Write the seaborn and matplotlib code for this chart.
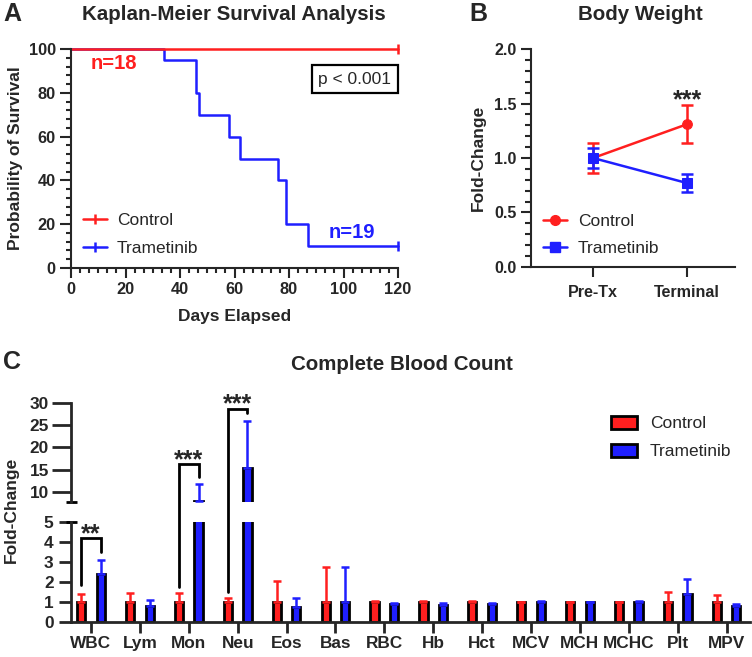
import numpy as np
import pandas as pd
import matplotlib
matplotlib.use('Agg')
import matplotlib.pyplot as plt
import seaborn as sns
from matplotlib.ticker import MultipleLocator, FormatStrFormatter
from matplotlib.lines import Line2D

# ---------------- data ----------------
# Panel A: Kaplan-Meier
km_ctrl_days = [0, 120]
km_ctrl_surv = [100, 100]
km_tram_days = [0, 34, 46, 47, 58, 62, 76, 79, 87, 120]
km_tram_surv = [100, 95, 80, 70, 60, 50, 40, 20, 10, 10]
km_labels = ['Control', 'Trametinib']
km_n_text = ['n=18', 'n=19']
km_p_text = 'p < 0.001'

# Panel B: body weight
bw_timepoints = ['Pre-Tx', 'Terminal']
bw_ctrl_mean = [1.00, 1.31]
bw_ctrl_err = [0.14, 0.175]
bw_tram_mean = [1.00, 0.77]
bw_tram_err = [0.09, 0.08]
bw_sig = ['', '***']

# Panel C: complete blood count
cbc_params = ['WBC', 'Lym', 'Mon', 'Neu', 'Eos', 'Bas', 'RBC', 'Hb', 'Hct',
              'MCV', 'MCH', 'MCHC', 'Plt', 'MPV']
cbc_ctrl_mean = [1.0, 1.0, 1.0, 1.0, 1.0, 1.0, 1.0, 1.0, 1.0, 0.98, 1.0, 0.98, 1.0, 1.0]
cbc_ctrl_upper = [1.40, 1.43, 1.43, 1.22, 2.07, 2.75, 1.04, 1.03, 1.03, 1.00, 1.02, 1.00, 1.50, 1.35]
cbc_tram_mean = [2.40, 0.78, 8.0, 15.4, 0.73, 1.0, 0.90, 0.87, 0.88, 1.0, 0.98, 1.0, 1.38, 0.80]
cbc_tram_upper = [3.12, 1.10, 11.8, 26.0, 1.19, 2.75, 0.97, 0.96, 0.95, 1.03, 1.01, 1.03, 2.15, 0.90]
sig_params = ['WBC', 'Mon', 'Neu']
sig_text = ['**', '***', '***']
sig_left_start = [1.85, 1.77, 1.50]
sig_top = [4.2, 16.2, 28.7]
sig_right_end = [3.5, 13.4, 27.75]

RED = '#FF1F1F'
BLUE = '#1F1FFF'

sns.set_style('ticks')
plt.rcParams['font.family'] = ['Liberation Sans', 'DejaVu Sans']
plt.rcParams['font.weight'] = 'bold'
plt.rcParams['axes.labelweight'] = 'bold'

W, H = 752, 657
fig = plt.figure(figsize=(W / 100, H / 100), dpi=100)


def rect(l, t, r, b):
    return [l / W, 1 - b / H, (r - l) / W, (b - t) / H]


axA = fig.add_axes(rect(71, 49, 398, 268))
axB = fig.add_axes(rect(531, 49, 735, 267))
axH = fig.add_axes(rect(71, 403, 750, 502))
axL = fig.add_axes(rect(71, 522, 750, 622))

# ---------------- Panel A ----------------
sns.lineplot(x=km_tram_days, y=km_tram_surv, drawstyle='steps-post', color=BLUE,
             lw=1.8, ax=axA, errorbar=None, clip_on=False)
sns.lineplot(x=km_ctrl_days, y=km_ctrl_surv, drawstyle='steps-post', color=RED,
             lw=1.8, ax=axA, errorbar=None, clip_on=False)
axA.plot([km_tram_days[-1]], [km_tram_surv[-1]], marker='|', ms=7, mew=1.8, color=BLUE, clip_on=False)
axA.plot([km_ctrl_days[-1]], [km_ctrl_surv[-1]], marker='|', ms=7, mew=1.8, color=RED, clip_on=False)
axA.set_xlim(0, 120)
axA.set_ylim(0, 100)
axA.set_xticks(range(0, 121, 20))
axA.set_yticks(range(0, 101, 20))
axA.xaxis.set_minor_locator(MultipleLocator(20 / 6))
axA.yaxis.set_minor_locator(MultipleLocator(4))
sns.despine(ax=axA)
for s in ['left', 'bottom']:
    axA.spines[s].set_linewidth(1.5)
axA.tick_params(which='major', length=7, width=1.5, labelsize=11.8, pad=3)
axA.tick_params(which='minor', length=3.5, width=1.5)
axA.tick_params(axis='y', which='major', length=8)
axA.set_xlabel('Days Elapsed', fontsize=12.5, labelpad=9)
axA.set_ylabel('Probability of Survival', fontsize=12.5, labelpad=4)
hA = [Line2D([], [], color=c, lw=1.8, marker='|', ms=7, mew=1.8) for c in (RED, BLUE)]
axA.legend(hA, km_labels, loc='lower left', bbox_to_anchor=(0.0, 0.0), frameon=False,
           prop={'weight': 'normal', 'size': 12.5}, handlelength=1.4, handletextpad=0.53,
           labelspacing=0.75, borderaxespad=0.3)
axA.text(15.8, 93.6, km_n_text[0], color=RED, fontsize=14.5, ha='center', va='center')
axA.text(103, 16, km_n_text[1], color=BLUE, fontsize=14.5, ha='center', va='center')
axA.text(104.2, 86.3, km_p_text, fontsize=12.5, weight='normal', ha='center', va='center',
         bbox=dict(boxstyle='square,pad=0.4', fc='white', ec='black', lw=1.6))

# ---------------- Panel B ----------------
xb = np.arange(len(bw_timepoints))
sns.lineplot(x=xb, y=bw_ctrl_mean, color=RED, marker='o', ms=7, mec=RED, lw=1.8, ax=axB)
axB.errorbar(xb, bw_ctrl_mean, yerr=bw_ctrl_err, fmt='none', ecolor=RED, elinewidth=1.8,
             capsize=4.5, capthick=1.8)
sns.lineplot(x=xb, y=bw_tram_mean, color=BLUE, marker='s', ms=7, mec=BLUE, lw=1.8, ax=axB)
axB.errorbar(xb, bw_tram_mean, yerr=bw_tram_err, fmt='none', ecolor=BLUE, elinewidth=1.8,
             capsize=4.5, capthick=1.8)
for i, s in enumerate(bw_sig):
    if s:
        axB.text(xb[i], bw_ctrl_mean[i] + bw_ctrl_err[i] - 0.02, s, fontsize=18,
                 weight='bold', ha='center', va='baseline')
axB.set_xlim(-0.66, 1.51)
axB.set_ylim(0, 2.0)
axB.set_xticks(xb)
axB.set_xticklabels(bw_timepoints)
axB.set_yticks([0, 0.5, 1.0, 1.5, 2.0])
axB.yaxis.set_major_formatter(FormatStrFormatter('%.1f'))
axB.yaxis.set_minor_locator(MultipleLocator(0.1))
sns.despine(ax=axB)
for s in ['left', 'bottom']:
    axB.spines[s].set_linewidth(1.5)
axB.tick_params(which='major', length=7, width=1.5, labelsize=11.6)
axB.tick_params(axis='x', pad=6)
axB.tick_params(which='minor', length=4, width=1.5)
axB.set_ylabel('Fold-Change', fontsize=12.5, labelpad=6)
hB = [Line2D([], [], color=RED, lw=1.8, marker='o', ms=7),
      Line2D([], [], color=BLUE, lw=1.8, marker='s', ms=7)]
axB.legend(hB, km_labels, loc='lower left', bbox_to_anchor=(0.0, -0.006), frameon=False,
           prop={'weight': 'normal', 'size': 12.5}, handlelength=1.4, handletextpad=0.6,
           labelspacing=0.68, borderaxespad=0.3)

# ---------------- Panel C ----------------
df = pd.DataFrame({
    'param': cbc_params * 2,
    'group': ['Control'] * len(cbc_params) + ['Trametinib'] * len(cbc_params),
    'value': cbc_ctrl_mean + cbc_tram_mean,
})
uppers = [cbc_ctrl_upper, cbc_tram_upper]
means = [cbc_ctrl_mean, cbc_tram_mean]
centers = {}
for ax in (axH, axL):
    sns.barplot(data=df, x='param', y='value', hue='group', palette=[RED, BLUE],
                saturation=1, edgecolor='black', linewidth=2, gap=0.58, errorbar=None,
                ax=ax, legend=(ax is axH))
    bar_conts = list(ax.containers)
    for k, cont in enumerate(bar_conts):
        xc = np.array([p.get_x() + p.get_width() / 2 for p in cont.patches])
        centers[k] = xc
        m = np.array(means[k])
        up = np.array(uppers[k]) - m
        ax.errorbar(xc, m, yerr=[np.zeros_like(m), up], fmt='none',
                    ecolor=[RED, BLUE][k], elinewidth=1.8, capsize=3, capthick=1.8)
    ax.set_xlim(-0.41, 13.48)
    ax.set_xlabel('')
    ax.set_ylabel('')

axH.set_ylim(7.75, 30)
axH.set_yticks([10, 15, 20, 25, 30])
sns.despine(ax=axH, bottom=True)
axH.tick_params(axis='x', bottom=False, labelbottom=False)
axH.tick_params(axis='y', length=14, width=2, labelsize=12.4, pad=2)
axH.spines['left'].set_linewidth(2)

axL.set_ylim(0, 5)
axL.set_yticks(range(0, 6))
sns.despine(ax=axL)
axL.tick_params(axis='y', length=9, width=2, labelsize=12.4, pad=3.5)
axL.tick_params(axis='x', length=8, width=2, labelsize=12.4, pad=2)
for s in ['left', 'bottom']:
    axL.spines[s].set_linewidth(2)

# break caps on the y axis
for ax, yv in ((axH, 7.75), (axL, 5)):
    ax.plot([-0.007, 0.009], [yv, yv], color='black', lw=2,
            transform=ax.get_yaxis_transform(), clip_on=False, solid_capstyle='butt')

# legend
handles, labels = axH.get_legend_handles_labels()
axH.get_legend().remove()
fig.legend(handles, labels, loc='upper left', bbox_to_anchor=(611 / W, 1 - 416 / H),
           frameon=False, prop={'weight': 'normal', 'size': 12.5}, handlelength=1.5,
           handleheight=0.75, handletextpad=0.75, labelspacing=0.72, borderaxespad=0,
           borderpad=0)

# significance brackets spanning the broken axis
fig.canvas.draw()
inv = fig.transFigure.inverted()


def to_fig(x, y):
    ax = axL if y <= 5 else axH
    return inv.transform(ax.transData.transform((x, y)))


for p, txt, y0, yt, y1 in zip(sig_params, sig_text, sig_left_start, sig_top, sig_right_end):
    i = cbc_params.index(p)
    xl, xr = centers[0][i], centers[1][i]
    pts = [to_fig(xl, y0), to_fig(xl, yt), to_fig(xr, yt), to_fig(xr, y1)]
    fig.add_artist(Line2D([q[0] for q in pts], [q[1] for q in pts], color='black', lw=2,
                          transform=fig.transFigure, solid_joinstyle='miter'))
    cx = (pts[1][0] + pts[2][0]) / 2
    fig.text(cx, pts[1][1] - 3 / H, txt, fontsize=18, weight='bold', ha='center', va='baseline')

fig.text(11 / W, 1 - 510 / H, 'Fold-Change', rotation=90, fontsize=12.5, ha='center', va='center')

# panel letters and titles
fig.text(3 / W, 1 - 2 / H, 'A', fontsize=18, ha='left', va='top')
fig.text(469 / W, 1 - 2 / H, 'B', fontsize=18, ha='left', va='top')
fig.text(3 / W, 1 - 350 / H, 'C', fontsize=18, ha='left', va='top')
fig.text(234 / W, 1 - 15 / H, 'Kaplan-Meier Survival Analysis', fontsize=14.8, ha='center', va='center')
fig.text(640 / W, 1 - 15 / H, 'Body Weight', fontsize=14.8, ha='center', va='center')
fig.text(402 / W, 1 - 364 / H, 'Complete Blood Count', fontsize=14.8, ha='center', va='center')

fig.savefig('out.png', dpi=100)
